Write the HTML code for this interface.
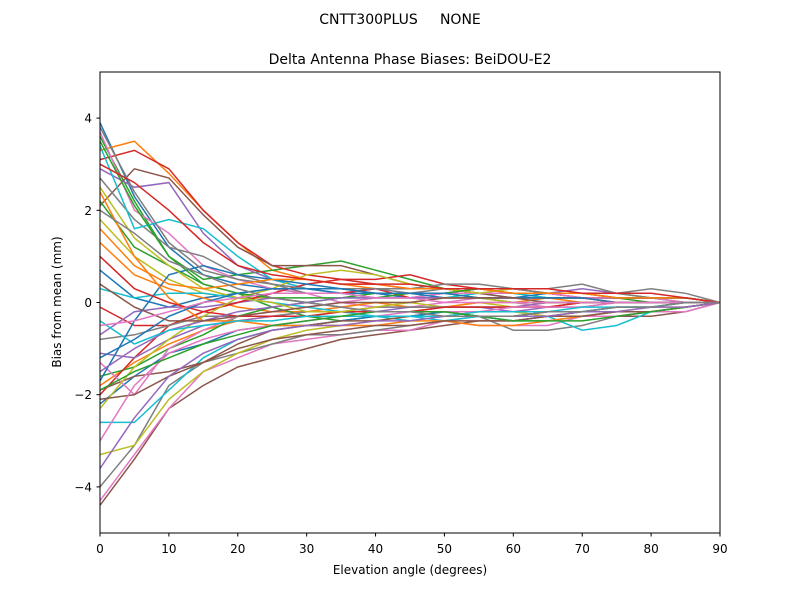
<!DOCTYPE html>
<html><head><meta charset="utf-8">
<style>
body{margin:0;background:#fff;font-family:"Liberation Sans","DejaVu Sans",sans-serif;}
svg text{font-family:"DejaVu Sans","Liberation Sans",sans-serif;}
</style></head>
<body>
<svg id="chart" width="800" height="600">
<text x="400" y="24" text-anchor="middle" font-size="14" style="white-space:pre" xml:space="preserve">CNTT300PLUS     NONE</text>
<text x="410" y="64" text-anchor="middle" font-size="14">Delta Antenna Phase Biases: BeiDOU-E2</text>
<g id="plot"></g>
<rect x="100" y="72" width="620" height="461" fill="none" stroke="#000" stroke-width="1"/>
<text x="410" y="574" text-anchor="middle" font-size="12">Elevation angle (degrees)</text>
<text x="61" y="302" text-anchor="middle" font-size="12" transform="rotate(-90 61 302)">Bias from mean (mm)</text>
</svg>
<script>
const xs=[0,5,10,15,20,25,30,35,40,45,50,55,60,65,70,75,80,85,90];
const xTicks=[0,10,20,30,40,50,60,70,80,90];
const yTicks=[-4,-2,0,2,4];
const series=[
[3.9,2.3,1.2,0.6,0.4,0.3,0.2,0.2,0.1,0.1,0.2,0.2,0.1,0.1,0.1,0.1,0.1,0.1,0],
[3.3,3.5,2.8,2.0,1.3,0.7,0.5,0.4,0.3,0.3,0.3,0.3,0.2,0.2,0.2,0.1,0.1,0.1,0],
[3.6,2.2,1.0,0.5,0.6,0.7,0.8,0.9,0.7,0.5,0.3,0.2,0.2,0.1,0.1,0.1,0.1,0.1,0],
[3.1,3.3,2.9,2.0,1.3,0.8,0.6,0.5,0.5,0.6,0.4,0.3,0.3,0.2,0.2,0.1,0.1,0.1,0],
[2.9,2.5,2.6,1.5,0.8,0.5,0.3,0.2,0.2,0.1,0.2,0.3,0.3,0.2,0.3,0.2,0.1,0.1,0],
[2.1,2.9,2.7,1.9,1.2,0.8,0.8,0.8,0.6,0.4,0.3,0.2,0.1,0.1,0.1,0.1,0.1,0.1,0],
[3.7,2.0,1.5,0.8,0.5,0.3,0.2,0.0,-0.1,-0.1,0,0.1,0,-0.1,0,0,0,0,0],
[2.7,1.8,1.2,1.0,0.6,0.4,0.2,0.2,0.3,0.3,0.4,0.4,0.3,0.3,0.4,0.2,0.3,0.2,0],
[1.8,1.0,0.5,0.2,0.1,0.1,0,-0.1,0,0,-0.1,0,-0.1,0,0,0,0,0,0],
[3.4,1.6,1.8,1.6,1.0,0.5,0.3,0.2,0.2,0.2,0.1,0.2,0.2,0.1,0.1,0.1,0.1,0.1,0],
[0.7,0.1,-0.1,0.1,0.2,0.3,0.3,0.2,0.2,0.1,0.1,0.1,0.1,0.2,0.1,0.1,0.1,0,0],
[1.3,0.6,0.3,0.1,-0.1,-0.2,-0.2,-0.1,0,-0.1,-0.1,0,0,0.1,0,0,0,0,0],
[2.2,1.2,0.8,0.4,0.2,-0.1,-0.3,-0.4,-0.3,-0.3,-0.2,-0.3,-0.3,-0.3,-0.2,-0.1,-0.1,0,0],
[-0.1,-0.5,-0.5,-0.2,0.0,0.2,0.2,0.2,0.3,0.1,0.1,0.1,0.1,0.1,0.1,0,0,0,0],
[-0.7,-0.2,-0.1,-0.1,0.0,0.1,0,-0.1,-0.2,-0.2,-0.1,-0.1,-0.2,-0.1,-0.1,0,0,0,0],
[-4.4,-3.4,-2.3,-1.8,-1.4,-1.2,-1.0,-0.8,-0.7,-0.6,-0.5,-0.4,-0.4,-0.3,-0.3,-0.3,-0.3,-0.2,0],
[-4.3,-3.3,-2.3,-1.5,-1.2,-0.9,-0.8,-0.7,-0.6,-0.6,-0.4,-0.5,-0.5,-0.5,-0.3,-0.3,-0.2,-0.2,0],
[-4.0,-3.1,-1.8,-1.3,-1.1,-0.9,-0.7,-0.7,-0.6,-0.5,-0.4,-0.3,-0.6,-0.6,-0.5,-0.3,-0.2,-0.1,0],
[-3.3,-3.1,-2.1,-1.5,-1.1,-0.8,-0.6,-0.5,-0.4,-0.3,-0.3,-0.2,-0.2,-0.3,-0.2,-0.2,-0.1,-0.1,0],
[-2.6,-2.6,-1.9,-1.2,-0.8,-0.6,-0.5,-0.4,-0.3,-0.4,-0.3,-0.3,-0.4,-0.3,-0.6,-0.5,-0.2,-0.1,0],
[-2.2,-1.6,-1.1,-0.9,-0.6,-0.5,-0.5,-0.4,-0.3,-0.3,-0.2,-0.3,-0.3,-0.2,-0.2,-0.1,-0.1,0,0],
[-1.8,-1.3,-0.9,-0.6,-0.4,-0.3,-0.3,-0.2,-0.2,-0.2,-0.1,-0.1,-0.1,-0.1,0,0,0,0,0],
[-1.6,-1.4,-1.0,-0.7,-0.3,-0.1,0,0.1,0.1,0.2,0.2,0.1,0.1,0.1,0.1,0.1,0,0,0],
[-2.0,-1.2,-0.5,-0.2,0,0.2,0.4,0.5,0.4,0.3,0.3,0.2,0.2,0.2,0.1,0.1,0.1,0.1,0],
[-1.1,-1.2,-0.8,-0.5,-0.4,-0.3,-0.2,-0.2,-0.2,-0.1,-0.1,-0.1,-0.1,0,0,0,0,0,0],
[-1.9,-1.6,-1.5,-1.3,-0.9,-0.6,-0.5,-0.4,-0.4,-0.3,-0.3,-0.3,-0.3,-0.2,-0.2,-0.2,-0.2,-0.1,0],
[-1.3,-2.0,-1.0,-0.6,-0.3,-0.2,-0.1,0,0.1,0.1,0.2,0.2,0.2,0.2,0.1,0.1,0.1,0,0],
[-0.8,-0.7,-0.5,-0.3,-0.3,-0.3,-0.2,-0.2,-0.1,-0.1,-0.1,-0.1,-0.1,-0.1,0,0,0,0,0],
[-2.3,-1.4,-0.8,-0.3,0.1,0.3,0.6,0.7,0.6,0.4,0.3,0.2,0.3,0.2,0.2,0.2,0.1,0.1,0],
[0.3,0.1,0.2,0.2,0.1,0.0,-0.1,-0.2,-0.3,-0.3,-0.4,-0.3,-0.4,-0.4,-0.3,-0.2,-0.2,-0.1,0],
[-1.7,-0.4,0.6,0.8,0.6,0.5,0.4,0.3,0.2,0.2,0.1,0.1,0,0,0,0,0,0,0],
[2.4,1.0,0.1,-0.4,-0.4,-0.5,-0.5,-0.5,-0.5,-0.4,-0.4,-0.5,-0.5,-0.4,-0.3,-0.2,-0.2,-0.1,0],
[3.5,2.1,1.0,0.4,0.2,0.1,0.1,0.1,0.2,0.2,0.2,0.3,0.2,0.2,0.2,0.1,0.1,0.1,0],
[1.0,0.3,0.0,-0.2,-0.3,-0.3,-0.3,-0.2,-0.2,-0.2,-0.1,-0.1,-0.1,-0.1,0,0,0,0,0],
[-1.5,-1.0,-0.6,-0.4,-0.2,-0.1,0.0,0.1,0.1,0.1,0.1,0.1,0.1,0.1,0.1,0,0,0,0],
[-2.1,-2.0,-1.6,-1.3,-1.0,-0.8,-0.7,-0.6,-0.5,-0.5,-0.4,-0.4,-0.4,-0.3,-0.3,-0.2,-0.2,-0.1,0],
[-3.0,-1.8,-1.1,-0.8,-0.6,-0.5,-0.4,-0.3,-0.3,-0.2,-0.2,-0.2,-0.1,-0.1,-0.1,0,0,0,0],
[3.8,2.4,1.3,0.7,0.5,0.4,0.3,0.3,0.3,0.2,0.3,0.3,0.3,0.2,0.2,0.2,0.1,0.1,0],
[2.5,1.4,0.8,0.3,0.1,0.0,-0.2,-0.2,-0.1,0,0.1,0.1,0,0,0,0,0,0,0],
[-0.4,-0.9,-0.6,-0.5,-0.4,-0.4,-0.3,-0.3,-0.3,-0.3,-0.3,-0.2,-0.2,-0.2,-0.1,-0.1,-0.1,0,0],
[-1.2,-0.8,-0.3,0.0,0.2,0.3,0.3,0.3,0.2,0.2,0.2,0.1,0.1,0.1,0.1,0,0,0,0],
[1.6,0.8,0.4,0.3,0.4,0.5,0.5,0.4,0.4,0.3,0.3,0.3,0.2,0.2,0.2,0.1,0.1,0.1,0],
[-1.9,-1.5,-1.2,-0.9,-0.7,-0.5,-0.4,-0.3,-0.2,-0.2,-0.2,-0.3,-0.4,-0.4,-0.4,-0.3,-0.2,-0.1,0],
[3.0,2.6,2.0,1.3,0.8,0.6,0.5,0.4,0.4,0.4,0.3,0.3,0.3,0.3,0.2,0.2,0.2,0.1,0],
[-3.6,-2.5,-1.6,-1.1,-0.8,-0.6,-0.5,-0.5,-0.4,-0.4,-0.3,-0.3,-0.3,-0.3,-0.2,-0.2,-0.1,-0.1,0],
[0.4,-0.1,-0.4,-0.4,-0.3,-0.2,-0.1,0,0,0,0.1,0.1,0.1,0,0,0,0,0,0],
[-0.5,-0.4,-0.2,0.0,0.1,0.2,0.2,0.2,0.1,0.1,0,0,0,0,0,0,0,0,0],
[2.0,1.5,0.9,0.6,0.3,0.1,0.0,-0.1,-0.2,-0.2,-0.3,-0.3,-0.3,-0.2,-0.2,-0.1,-0.1,0,0]
];
const colors=["#1f77b4","#ff7f0e","#2ca02c","#d62728","#9467bd","#8c564b","#e377c2","#7f7f7f","#bcbd22","#17becf"];
const X=v=>100+(v-0)/90*620;
const Y=v=>533-(v+5)/10*461;
const NS="http://www.w3.org/2000/svg";
const g=document.getElementById('plot');
series.forEach((s,i)=>{
  const p=document.createElementNS(NS,'polyline');
  p.setAttribute('points',s.map((v,j)=>X(xs[j]).toFixed(1)+','+Y(v).toFixed(1)).join(' '));
  p.setAttribute('fill','none');p.setAttribute('stroke',colors[i%10]);p.setAttribute('stroke-width','1.5');
  
  
  g.appendChild(p);
});
xTicks.forEach(t=>{
  const l=document.createElementNS(NS,'line');
  l.setAttribute('x1',X(t));l.setAttribute('x2',X(t));l.setAttribute('y1',533);l.setAttribute('y2',536.5);l.setAttribute('stroke','#000');
  
  
  g.appendChild(l);
  const tx=document.createElementNS(NS,'text');
  tx.setAttribute('x',X(t));tx.setAttribute('y',553);tx.setAttribute('text-anchor','middle');tx.setAttribute('font-size','12');tx.textContent=t;
  
  
  g.appendChild(tx);
});
yTicks.forEach(t=>{
  const l=document.createElementNS(NS,'line');
  l.setAttribute('x1',96.5);l.setAttribute('x2',100);l.setAttribute('y1',Y(t));l.setAttribute('y2',Y(t));l.setAttribute('stroke','#000');
  
  
  g.appendChild(l);
  const tx=document.createElementNS(NS,'text');
  tx.setAttribute('x',92);tx.setAttribute('y',Y(t)+4.5);tx.setAttribute('text-anchor','end');tx.setAttribute('font-size','12');tx.textContent=t<0?'\u2212'+(-t):t;
  
  
  g.appendChild(tx);
});
</script>
</body></html>
